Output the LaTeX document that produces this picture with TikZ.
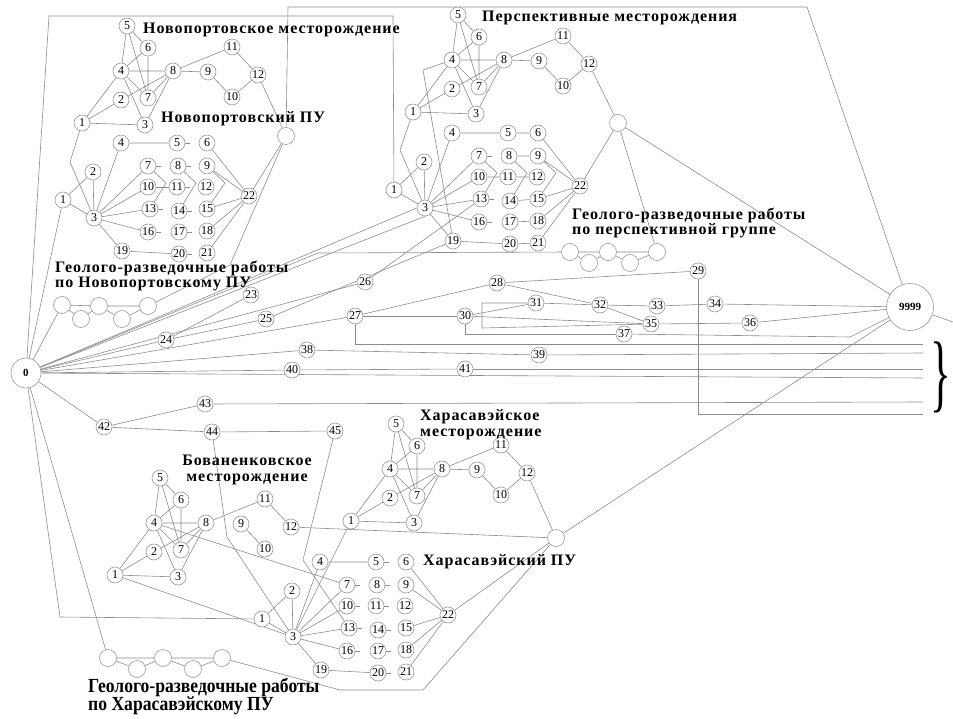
\documentclass[tikz,border=0pt]{standalone}
\usepackage{fontspec}
\usepackage{graphicx}
\setmainfont{Liberation Serif}
\newfontfamily\ttlfont[LetterSpace=6]{Liberation Serif}
\usetikzlibrary{backgrounds}

% upper field block, origin = node 4
\newcommand\ablock[3]{%
\begin{scope}[shift={(#2,#3)}]
\node[n] (#1-4) at (0,0) {4};
\node[n] (#1-5) at (6,-45) {5};
\node[n] (#1-6) at (27,-23) {6};
\node[n] (#1-8) at (52,0) {8};
\node[n] (#1-9) at (87,1) {9};
\node[n] (#1-11) at (111,-24) {11};
\node[n] (#1-12) at (137,4) {12};
\node[n] (#1-10) at (111,26) {10};
\node[n] (#1-2) at (0,29) {2};
\node[n] (#1-7) at (27,27) {7};
\node[n] (#1-1) at (-39,52) {1};
\node[n] (#1-3) at (24,54) {3};
\end{scope}
\begin{scope}[on background layer]
\draw[e] (#1-5)--(#1-4) (#1-5)--(#1-6) (#1-5)--(#1-7) (#1-6)--(#1-4) (#1-6)--(#1-7)
 (#1-4)--(#1-8) (#1-4)--(#1-7) (#1-4)--(#1-3) (#1-8)--(#1-2) (#1-8)--(#1-7) (#1-8)--(#1-3)
 (#1-8)--(#1-11) (#1-11)--(#1-12) (#1-9)--(#1-10) (#1-1)--(#1-4) (#1-1)--(#1-2) (#1-1)--(#1-3);
\end{scope}}

% lower block, origin = node 3
\newcommand\bblock[3]{%
\begin{scope}[shift={(#2,#3)}]
\node[n] (#1-3) at (0,0) {3};
\node[n] (#1-1) at (-31,-18) {1};
\node[n] (#1-2) at (-1,-46) {2};
\node[n] (#1-4) at (27,-75) {4};
\node[n] (#1-5) at (83,-75) {5};
\node[n] (#1-6) at (113,-75) {6};
\node[n] (#1-7) at (54,-52) {7};
\node[n] (#1-8) at (84,-52) {8};
\node[n] (#1-9) at (113,-52) {9};
\node[n] (#1-10) at (54,-31) {10};
\node[n] (#1-11) at (83,-31) {11};
\node[n] (#1-12) at (112,-31) {12};
\node[n] (#1-13) at (56,-9) {13};
\node[n] (#1-14) at (85,-7) {14};
\node[n] (#1-15) at (113,-9) {15};
\node[n] (#1-16) at (54,14) {16};
\node[n] (#1-17) at (85,14) {17};
\node[n] (#1-18) at (113,13) {18};
\node[n] (#1-19) at (28,33) {19};
\node[n] (#1-20) at (85,36) {20};
\node[n] (#1-21) at (113,35) {21};
\node[n] (#1-22) at (155,-22) {22};
\end{scope}
\begin{scope}[on background layer]
\draw[e] (#1-1)--(#1-2) (#1-1)--(#1-3) (#1-2)--(#1-3) (#1-3)--(#1-4) (#1-3)--(#1-7)
 (#1-3)--(#1-10) (#1-3)--(#1-13) (#1-3)--(#1-16) (#1-3)--(#1-19) (#1-4)--(#1-5)
 (#1-19)--(#1-20) (#1-6)--(#1-22) (#1-9)--(#1-22) (#1-15)--(#1-22) (#1-18)--(#1-22) (#1-21)--(#1-22);
\end{scope}}

\newcommand\geoedges[1]{%
\begin{scope}[on background layer]
\draw[e] (#1-1)--(#1-3) (#1-3)--(#1-5) (#1-1)--(#1-2) (#1-2)--(#1-3) (#1-3)--(#1-4) (#1-4)--(#1-5);
\end{scope}}

\begin{document}
\begin{tikzpicture}[x=1pt,y=-1pt,
 e/.style={draw=black!45,line width=0.6pt},
 n/.style={circle,draw=black!40,line width=0.6pt,fill=white,inner sep=0pt,minimum size=16pt,font=\fontsize{12}{12}\selectfont},
 hb/.style={circle,draw=black!40,line width=0.6pt,fill=white,inner sep=0pt,minimum size=17pt},
 ttl/.style={font=\ttlfont\fontsize{16}{16}\selectfont\bfseries,inner sep=0pt,anchor=west},
]
\useasboundingbox (0,0) rectangle (953,719);

% ---- blocks
\ablock{na}{121}{71}
\bblock{nb}{94}{218}
\ablock{pa}{452}{60}
\bblock{pb}{425}{208}
\ablock{xa}{390}{469}
\bblock{xb}{293}{637}
\ablock{ba}{154}{523}

% ---- hubs
\node[hb] (hnp) at (286,136) {};
\node[hb] (hp) at (618,123) {};
\node[hb] (hx) at (556,538) {};

% ---- geology bubbles
\node[hb] (ng-1) at (62,305) {};
\node[hb] (ng-2) at (81,319) {};
\node[hb] (ng-3) at (99,306) {};
\node[hb] (ng-4) at (122,319) {};
\node[hb] (ng-5) at (148,306) {};
\node[hb] (pg-1) at (570,252) {};
\node[hb] (pg-2) at (589,263) {};
\node[hb] (pg-3) at (608,252) {};
\node[hb] (pg-4) at (630,263) {};
\node[hb] (pg-5) at (657,252) {};
\node[hb] (xg-1) at (108,658) {};
\node[hb] (xg-2) at (137,669) {};
\node[hb] (xg-3) at (163,658) {};
\node[hb] (xg-4) at (193,669) {};
\node[hb] (xg-5) at (222,658) {};
\geoedges{ng}
\geoedges{pg}
\geoedges{xg}

% ---- main nodes
\node[n,minimum size=30pt,font=\bfseries\fontsize{11}{11}\selectfont] (m0) at (26,373) {0};
\node[n,minimum size=47pt,font=\bfseries\fontsize{11}{11}\selectfont] (m9999) at (910,307) {9999};
\node[n,fill=none] (m23) at (251,295) {23};
\node[n] (m24) at (166,340) {24};
\node[n] (m25) at (266,319) {25};
\node[n] (m26) at (365,282) {26};
\node[n] (m27) at (355,316) {27};
\node[n] (m28) at (497,283) {28};
\node[n] (m29) at (698,271) {29};
\node[n] (m30) at (465,316) {30};
\node[n] (m31) at (536,303) {31};
\node[n] (m32) at (600,305) {32};
\node[n] (m33) at (657,306) {33};
\node[n] (m34) at (715,304) {34};
\node[n] (m35) at (651,324) {35};
\node[n] (m36) at (750,323) {36};
\node[n] (m37) at (624,334) {37};
\node[n] (m38) at (307,350) {38};
\node[n] (m39) at (539,355) {39};
\node[n] (m40) at (292,370) {40};
\node[n] (m41) at (465,369) {41};
\node[n] (m42) at (104,427) {42};
\node[n] (m43) at (205,404) {43};
\node[n] (m44) at (212,432) {44};
\node[n] (m45) at (335,431) {45};

% ---- free ends and bends
\coordinate (c1) at (49,16);
\coordinate (c2) at (393,16);
\coordinate (c3) at (288,7);
\coordinate (c4) at (807,7);
\coordinate (c5) at (70,162);
\coordinate (c6) at (400,150);
\coordinate (c7) at (423,70);
\coordinate (c8) at (230,265);
\coordinate (c9) at (318,253);
\coordinate (c10) at (482,303);
\coordinate (c11) at (482,328);
\coordinate (c12) at (850,337);
\coordinate (c13) at (303,560);
\coordinate (c14) at (227,537);
\coordinate (c15) at (60,617);
\coordinate (c16) at (340,690);
\coordinate (c17) at (423,690);
\coordinate (c18) at (953,322);
\coordinate (r1) at (923,344);
\coordinate (r2) at (923,353);
\coordinate (r3) at (923,369);
\coordinate (r4) at (923,378);
\coordinate (r5) at (923,402);
\coordinate (r6) at (923,414);

\begin{scope}[on background layer]
% block specifics
\draw[e] (na-8)--(na-9) (na-10)--(na-12) (pa-8)--(pa-9) (pa-10)--(pa-12) (xa-8)--(xa-9) (xa-10)--(xa-12);
\draw[e] (nb-10)--(nb-11);
\foreach \k in {5,7,8,11,13,14,16,17,20} {\draw[e] (nb-\k.east) -- ++(5,0);}
\draw[e] (nb-7) -- ++(18,17) -- (nb-13);
\draw[e] (nb-8) -- ++(18,17) -- (nb-14);
\draw[e] (nb-9) -- ++(18,17) -- (nb-15);
\draw[e] (pb-5)--(pb-6) (pb-8)--(pb-9) (pb-10)--(pb-11) (pb-11)--(pb-12) (pb-14)--(pb-15) (pb-17)--(pb-18) (pb-20)--(pb-21);
\foreach \k in {7,13,16} {\draw[e] (pb-\k.east) -- ++(5,0);}
\draw[e] (pb-7) -- ++(18,17) -- (pb-13);
\draw[e] (pb-8) -- ++(18,17) -- (pb-14);
\draw[e] (pb-9) -- ++(18,17) -- (pb-15);
\foreach \k in {5,7,8,10,11,13,14,16,17,20} {\draw[e] (xb-\k.east) -- ++(5,0);}
% frame lines
\draw[e] (m0) -- (c1) -- (c2) -- (pb-1);
\draw[e] (hnp) -- (c3) -- (c4) -- (m9999);
% top-left
\draw[e] (na-1) -- (c5) -- (nb-3);
\draw[e] (na-12) -- (hnp);
\draw[e] (nb-22) -- (hnp);
\draw[e] (ng-5) -- (c8) -- (hnp);
\draw[e] (m0) -- (ng-1);
\draw[e] (m0) -- (nb-1);
% perspective
\draw[e] (pa-1) -- (c6) -- (pb-3);
\draw[e] (pa-4) -- (c7) -- (pb-19);
\draw[e] (pa-12) -- (hp);
\draw[e] (pb-22) -- (hp);
\draw[e] (hp) -- (pg-5);
\draw[e] (hp) -- (m9999);
\draw[e] (m0) -- (pb-3.west);
\draw[e] (m0) -- (pb-3.south);
\draw[e] (m0) -- (c9) -- (pg-1);
% middle
\draw[e] (m0) -- (m24);
\draw[e] (m24) -- (m23);
\draw[e] (m24) -- (m25);
\draw[e] (m25) -- (pb-19);
\draw[e] (m0) -- (m26);
\draw[e] (m26) -- (pb-13);
\draw[e] (m0) -- (m27);
\draw[e] (m27) -- (m28);
\draw[e] (m27) -- (m30);
\draw[e] (m27) |- (r1);
\draw[e] (m28) -- (m29);
\draw[e] (m28) -- (m32);
\draw[e] (m29) |- (r6);
\draw[e] (m30) -- (m31);
\draw[e] (m30) -- (m35);
\draw[e] (m30) |- (m37);
\draw[e] (m31) -- (c10) -- (c11) -- (m35);
\draw[e] (m31) -- (m32);
\draw[e] (m32) -- (m33);
\draw[e] (m33) -- (m34);
\draw[e] (m34) -- (m9999);
\draw[e] (m32) -- (m35);
\draw[e] (m35) -- (m36);
\draw[e] (m36) -- (m9999);
\draw[e] (m37) -- (c12) -- (m9999);
\draw[e] (m0) -- (m38);
\draw[e] (m38) -- (m39);
\draw[e] (m39) -- (r2);
\draw[e] (m0) -- (m40);
\draw[e] (m40) -- (m41);
\draw[e] (m41) -- (r3);
\draw[e] (m0) -- (r4);
\draw[e] (m0) -- (m42);
\draw[e] (m42) -- (m43);
\draw[e] (m43) -- (r5);
\draw[e] (m42) -- (m44);
\draw[e] (m44) -- (m45);
\draw[e] (m45) -- (c13) -- (xb-13);
\draw[e] (m44) -- (c14) -- (xb-3);
\draw[e] (m9999) -- (c18);
% bottom
\draw[e] (m0) -- (c15) -- (xb-1);
\draw[e] (m0) -- (xg-1);
\draw[e] (xg-5) -- (c16) -- (c17) -- (hx);
\draw[e] (ba-1) -- (xb-3);
\draw[e] (ba-4) -- (xb-7);
\draw[e] (ba-12) -- (hx);
\draw[e] (xa-12) -- (hx);
\draw[e] (xa-1) -- (xb-3);
\draw[e] (xb-22) -- (hx);
\draw[e] (hx) -- (m9999);
\end{scope}

% ---- titles
\node[ttl] (t1) at (143,30) {Новопортовское месторождение};
\node[ttl] (t2) at (161,119) {Новопортовский ПУ};
\node[ttl] (t3) at (482,18) {Перспективные месторождения};
\node[ttl] (t4a) at (572,215) {Геолого-разведочные работы};
\node[ttl] (t4b) at (572,231) {по перспективной группе};
\node[ttl] (t5a) at (55,268) {Геолого-разведочные работы};
\node[ttl] (t5b) at (55,284) {по Новопортовскому ПУ};
\node[ttl,anchor=center] (t6a) at (247,460) {Бованенковское};
\node[ttl,anchor=center] (t6b) at (247,479) {месторождение};
\node[ttl] (t7a) at (420,417) {Харасавэйское};
\node[ttl] (t7b) at (420,434) {месторождение};
\node[ttl] (t8) at (423,562) {Харасавэйский ПУ};
\node[inner sep=0pt,anchor=west] (t9a) at (88,687) {\scalebox{0.88}[1]{\fontsize{20}{20}\selectfont\bfseries Геолого-разведочные работы}};
\node[inner sep=0pt,anchor=west] (t9b) at (88,706) {\scalebox{0.88}[1]{\fontsize{20}{20}\selectfont\bfseries по Харасавэйскому ПУ}};
\node[inner sep=0pt] (brace) at (941,377) {\scalebox{0.5}[1]{\fontsize{86}{86}\selectfont\}}};
\end{tikzpicture}
\end{document}
